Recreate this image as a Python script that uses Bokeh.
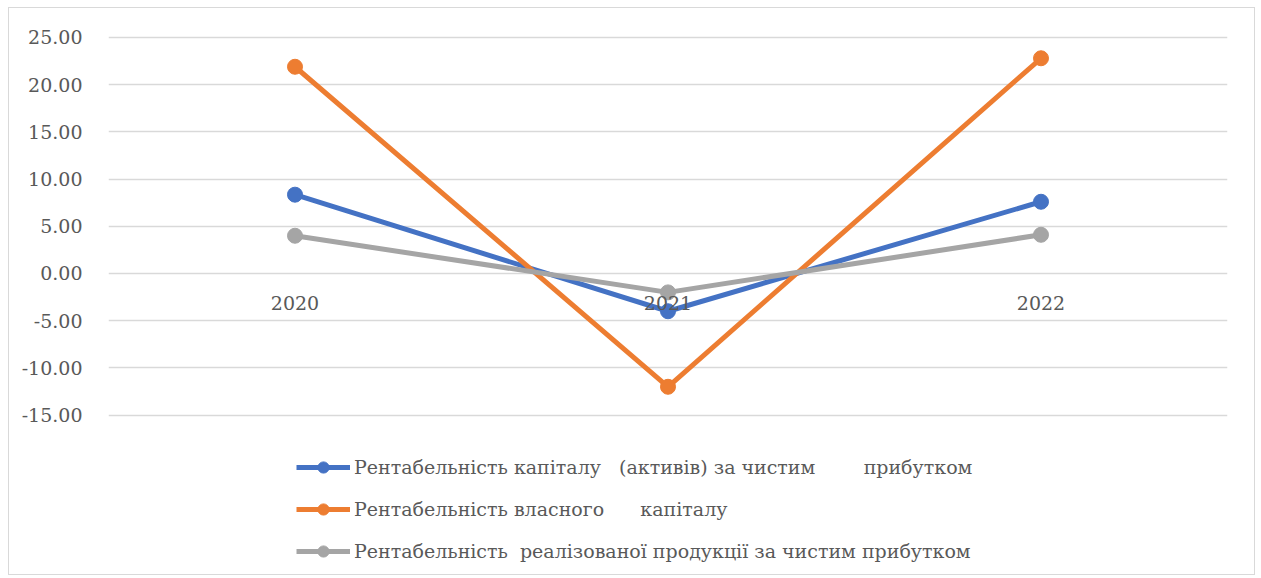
from bokeh.plotting import figure
from bokeh.models import FixedTicker, NumeralTickFormatter, Legend, LegendItem, ColumnDataSource
from bokeh.embed import file_html
from bokeh.resources import INLINE

years = ["2020", "2021", "2022"]
roa = [8.35, -4.0, 7.6]
roe = [21.9, -12.0, 22.8]
ros = [4.0, -2.0, 4.1]
y_ticks = [-15, -10, -5, 0, 5, 10, 15, 20, 25]
labels = [
    "Рентабельність капіталу \u00a0\u00a0(активів) за чистим \u00a0\u00a0\u00a0\u00a0\u00a0\u00a0\u00a0прибутком",
    "Рентабельність власного \u00a0\u00a0\u00a0\u00a0\u00a0капіталу",
    "Рентабельність \u00a0реалізованої продукції за чистим прибутком",
]
colors = ["#4472C4", "#ED7D31", "#A5A5A5"]

FONT = "DejaVu Serif"

p = figure(x_range=years, y_range=(-31.25, 27.86), width=1247, height=568,
           output_backend="svg", toolbar_location=None,
           min_border_left=99, min_border_right=29, min_border_top=2, min_border_bottom=8)
p.styles = {"border": "1px solid #d9d9d9", "margin-left": "8px", "margin-top": "7px"}
p.outline_line_color = None
p.background_fill_color = "white"

p.xgrid.grid_line_color = None
p.ygrid.grid_line_color = "#d9d9d9"
p.ygrid.grid_line_width = 1.3
p.yaxis.ticker = FixedTicker(ticks=y_ticks)
p.yaxis.formatter = NumeralTickFormatter(format="0.00")
p.yaxis.axis_line_color = None
p.yaxis.major_tick_line_color = None
p.yaxis.minor_tick_line_color = None
p.yaxis.major_label_standoff = 20
p.yaxis.major_label_text_font = FONT
p.yaxis.major_label_text_font_size = "19px"
p.yaxis.major_label_text_color = "#595959"

p.xaxis.fixed_location = 0
p.xaxis.axis_line_color = None
p.xaxis.major_tick_line_color = None
p.xaxis.minor_tick_line_color = None
p.xaxis.major_label_standoff = 17
p.xaxis.major_label_text_font = FONT
p.xaxis.major_label_text_font_size = "19px"
p.xaxis.major_label_text_color = "#595959"

items = []
for vals, col, lab in zip([roa, roe, ros], colors, labels):
    src = ColumnDataSource(dict(x=years, y=vals))
    l = p.line("x", "y", source=src, line_color=col, line_width=5)
    s = p.scatter("x", "y", source=src, size=15, fill_color=col, line_color=col)
    items.append(LegendItem(label=lab, renderers=[l, s]))

legend = Legend(items=items, location=(188, 3), orientation="vertical",
                glyph_width=54, glyph_height=28, label_height=21, spacing=14,
                label_standoff=4, padding=0, margin=0,
                border_line_color=None, background_fill_alpha=0,
                label_text_font=FONT, label_text_font_size="19px",
                label_text_color="#595959")
p.add_layout(legend, "center")

open("out.html", "w").write(file_html(p, INLINE))
